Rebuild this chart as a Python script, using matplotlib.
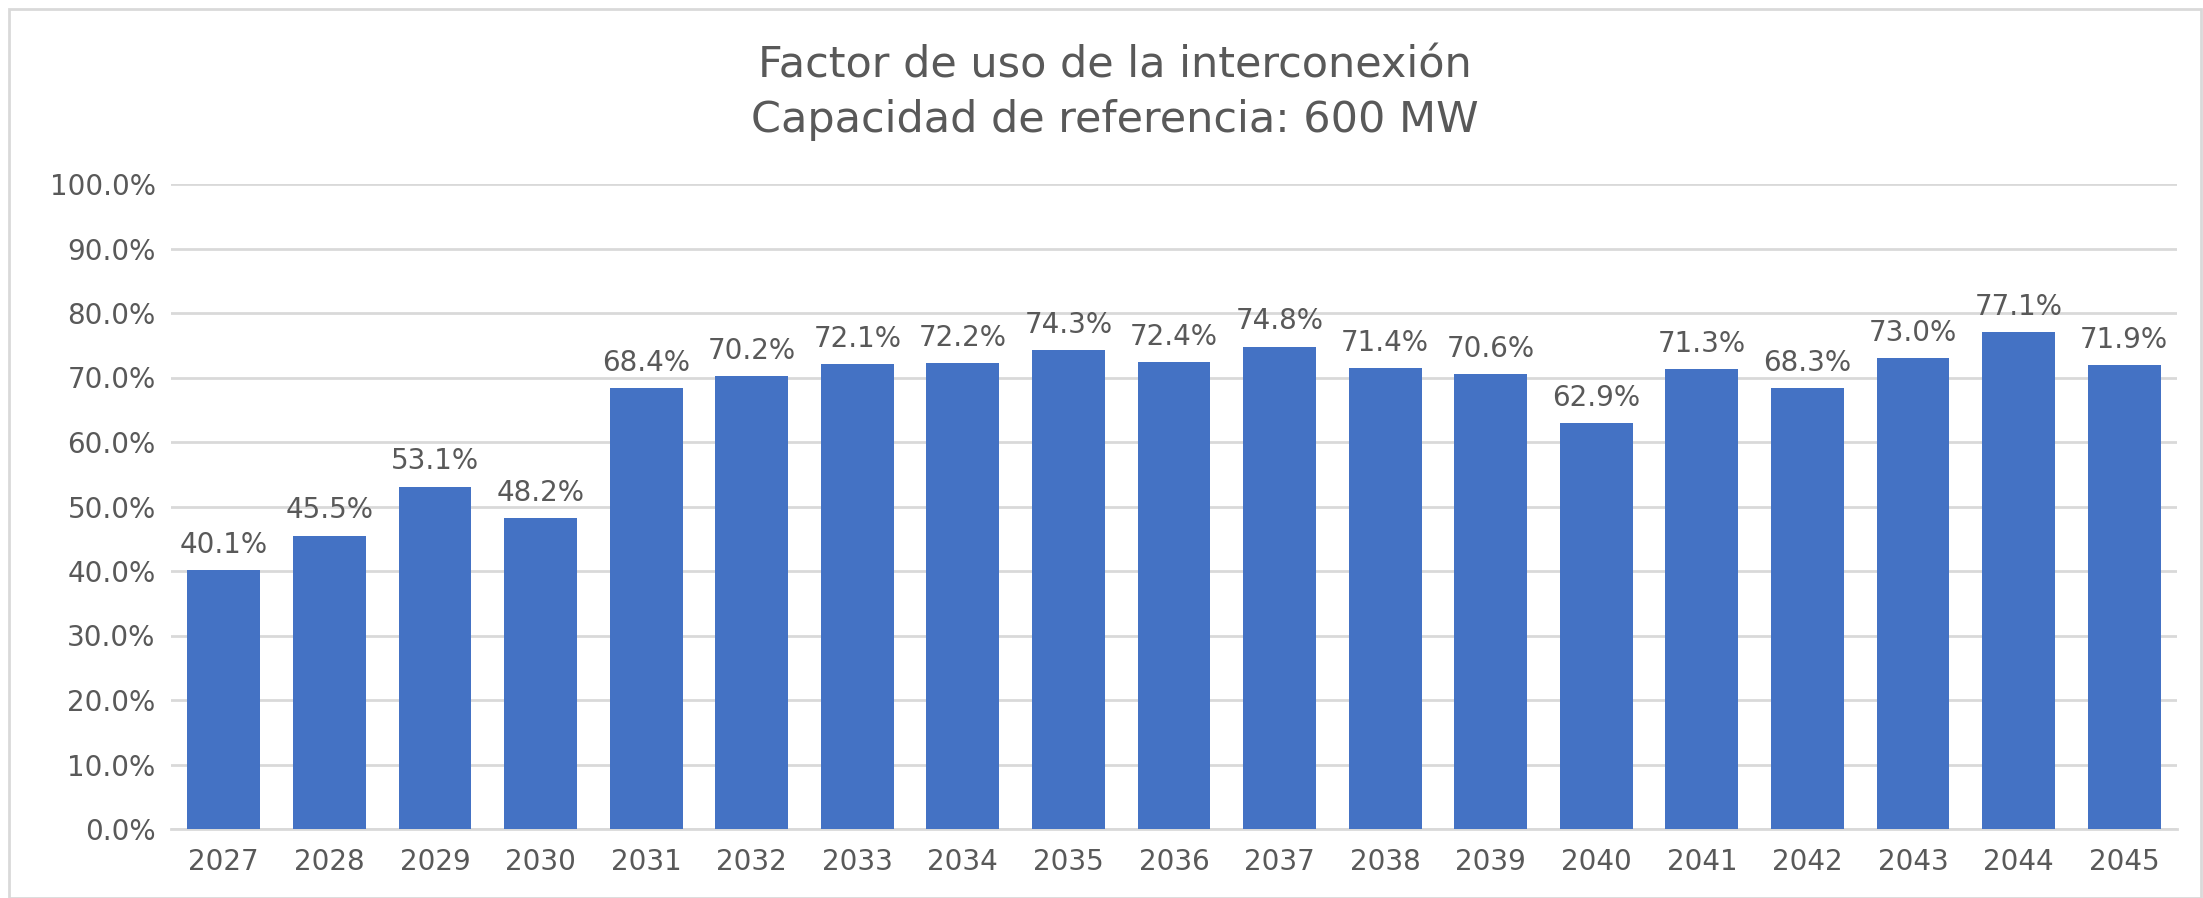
import numpy as np
import matplotlib.pyplot as plt
from matplotlib.patches import Rectangle

years = ["2027", "2028", "2029", "2030", "2031", "2032", "2033", "2034", "2035", "2036",
         "2037", "2038", "2039", "2040", "2041", "2042", "2043", "2044", "2045"]
factor = [40.1, 45.5, 53.1, 48.2, 68.4, 70.2, 72.1, 72.2, 74.3, 72.4,
          74.8, 71.4, 70.6, 62.9, 71.3, 68.3, 73.0, 77.1, 71.9]
yticks = [0, 10, 20, 30, 40, 50, 60, 70, 80, 90, 100]

grey = "#595959"
blue = "#4472C4"

fig = plt.figure(figsize=(22.03, 8.98), dpi=100)
fig.patches.append(Rectangle((9 / 2203, 0), 1 - 9 / 2203 - 0.001, 1 - 9 / 898,
                             transform=fig.transFigure, fill=False,
                             edgecolor="#d9d9d9", linewidth=2))

ax = fig.add_axes([171 / 2203, 1 - 829 / 898, (2177 - 171) / 2203, (829 - 184) / 898])

x = np.arange(len(years))
bars = ax.bar(x, factor, width=0.69, color=blue, zorder=3)
for xi, v in zip(x, factor):
    ax.annotate(f"{v:.1f}%", (xi, v), xytext=(0, 8), textcoords="offset points",
                ha="center", va="bottom", fontsize=20, color=grey,
                family="DejaVu Sans")

ax.set_xlim(-0.5, len(years) - 0.5)
ax.set_ylim(0, 100)
ax.set_yticks(yticks)
ax.set_yticklabels([f"{t:.1f}%" for t in yticks])
ax.set_xticks(x)
ax.set_xticklabels(years)
ax.tick_params(axis="both", length=0, labelsize=20, labelcolor=grey)
ax.tick_params(axis="y", pad=11)
ax.tick_params(axis="x", pad=14)
for lbl in ax.get_xticklabels() + ax.get_yticklabels():
    lbl.set_family("DejaVu Sans")

ax.grid(axis="y", color="#d9d9d9", linewidth=2, zorder=0)
for s in ["top", "right", "left"]:
    ax.spines[s].set_visible(False)
ax.spines["bottom"].set_color("#d9d9d9")
ax.spines["bottom"].set_linewidth(2)

fig.text(0.506, 1 - 66 / 898, "Factor de uso de la interconexión", ha="center", va="center",
         fontsize=31, color=grey, family="DejaVu Sans")
fig.text(0.506, 1 - 120 / 898, "Capacidad de referencia: 600 MW", ha="center", va="center",
         fontsize=31, color=grey, family="DejaVu Sans")

fig.savefig("out.png", dpi=100)
